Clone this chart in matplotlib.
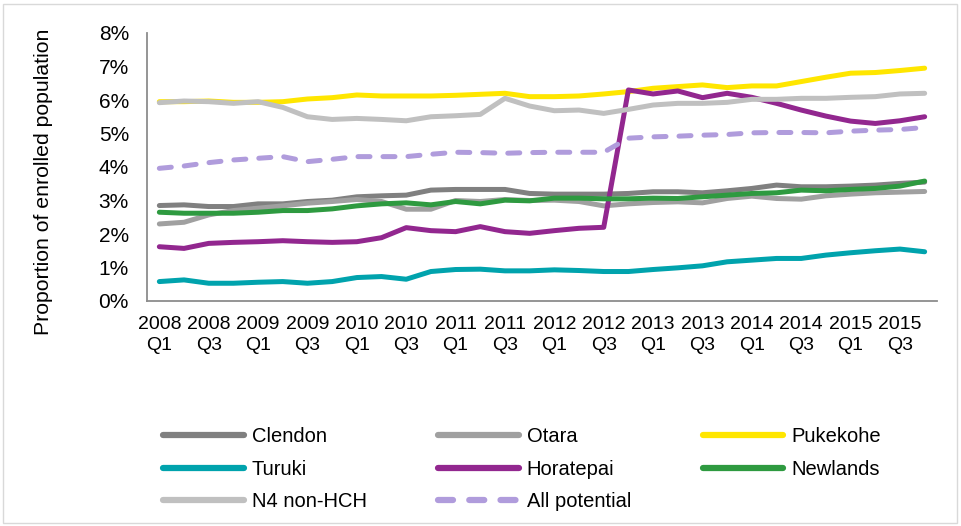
import numpy as np
import matplotlib
matplotlib.use("Agg")
import matplotlib.pyplot as plt
from matplotlib.ticker import FuncFormatter
from matplotlib.patches import Rectangle

plt.rcParams['font.family'] = ['Liberation Sans', 'DejaVu Sans']

quarters = [f"{y}\nQ{q}" for y in range(2008, 2016) for q in range(1, 5)]

# proportion of enrolled population, in percent
clendon = [2.85, 2.87, 2.82, 2.82, 2.90, 2.90, 2.97, 3.01, 3.11, 3.14, 3.16, 3.31,
           3.33, 3.33, 3.33, 3.21, 3.19, 3.19, 3.19, 3.21, 3.26, 3.26, 3.23, 3.29,
           3.36, 3.46, 3.41, 3.41, 3.43, 3.46, 3.51, 3.55]
otara = [2.30, 2.35, 2.57, 2.70, 2.77, 2.84, 2.92, 2.97, 3.03, 2.97, 2.74, 2.74,
         3.00, 2.97, 3.03, 3.00, 3.01, 2.97, 2.84, 2.90, 2.94, 2.96, 2.93, 3.06,
         3.13, 3.06, 3.04, 3.14, 3.19, 3.23, 3.25, 3.27]
pukekohe = [5.95, 5.95, 5.97, 5.93, 5.93, 5.95, 6.03, 6.07, 6.15, 6.12, 6.12, 6.12,
            6.14, 6.17, 6.20, 6.10, 6.10, 6.12, 6.18, 6.25, 6.35, 6.40, 6.45, 6.37,
            6.42, 6.42, 6.55, 6.68, 6.80, 6.82, 6.88, 6.95]
turuki = [0.58, 0.63, 0.53, 0.53, 0.56, 0.58, 0.53, 0.58, 0.70, 0.73, 0.65, 0.88,
          0.94, 0.95, 0.90, 0.90, 0.93, 0.91, 0.88, 0.88, 0.94, 0.99, 1.05, 1.17,
          1.22, 1.27, 1.27, 1.37, 1.44, 1.50, 1.55, 1.47]
horatepai = [1.62, 1.57, 1.72, 1.75, 1.77, 1.80, 1.77, 1.75, 1.77, 1.89, 2.19, 2.10,
             2.07, 2.22, 2.07, 2.02, 2.10, 2.17, 2.20, 6.30, 6.18, 6.27, 6.07, 6.20,
             6.08, 5.90, 5.70, 5.52, 5.37, 5.30, 5.38, 5.50]
newlands = [2.65, 2.62, 2.62, 2.62, 2.65, 2.70, 2.70, 2.75, 2.84, 2.90, 2.93, 2.87,
            2.97, 2.90, 3.01, 2.99, 3.07, 3.07, 3.05, 3.05, 3.07, 3.06, 3.11, 3.16,
            3.21, 3.23, 3.31, 3.29, 3.33, 3.36, 3.43, 3.58]
n4_non_hch = [5.92, 5.97, 5.95, 5.90, 5.95, 5.78, 5.50, 5.42, 5.45, 5.42, 5.38, 5.50,
              5.53, 5.57, 6.05, 5.82, 5.68, 5.70, 5.60, 5.72, 5.85, 5.90, 5.90, 5.93,
              6.02, 6.02, 6.05, 6.05, 6.08, 6.10, 6.18, 6.20]
all_potential = [3.96, 4.03, 4.13, 4.21, 4.26, 4.31, 4.16, 4.23, 4.31, 4.31, 4.31, 4.38,
                 4.44, 4.43, 4.41, 4.43, 4.44, 4.44, 4.44, 4.86, 4.90, 4.92, 4.95, 4.97,
                 5.02, 5.03, 5.03, 5.02, 5.07, 5.10, 5.12, 5.18]

series = [
    ("Clendon", clendon, "#808080", "-"),
    ("Otara", otara, "#A0A0A0", "-"),
    ("Pukekohe", pukekohe, "#FFE600", "-"),
    ("Turuki", turuki, "#00A3AD", "-"),
    ("Horatepai", horatepai, "#92278F", "-"),
    ("Newlands", newlands, "#2E9A40", "-"),
    ("N4 non-HCH", n4_non_hch, "#C0C0C0", "-"),
    ("All potential", all_potential, "#B09CDC", "--"),
]

fig = plt.figure(figsize=(9.61, 5.26), dpi=100)
ax = fig.add_axes([147 / 961, 1 - 301 / 526, 790 / 961, 268 / 526])

x = np.arange(len(quarters))
handles = []
for name, vals, color, ls in series:
    line, = ax.plot(x, vals, color=color, linewidth=3.6, label=name,
                    solid_capstyle="round", solid_joinstyle="round")
    if ls == "--":
        line.set_dashes([2.4, 2.6])
        line.set_dash_capstyle("round")
    handles.append(line)

ax.set_xlim(-0.5, len(quarters) - 0.5)
ax.set_ylim(0, 8)
ax.set_yticks(np.arange(0, 9, 1))
ax.yaxis.set_major_formatter(FuncFormatter(lambda v, p: f"{v:.0f}%"))
ax.set_xticks(x[::2])
ax.set_xticklabels(quarters[::2])
ax.tick_params(axis="both", length=0, colors="black")
ax.tick_params(axis="x", pad=11, labelsize=14)
ax.tick_params(axis="y", pad=13, labelsize=15)
for lab in ax.get_xticklabels():
    lab.set_linespacing(1.25)

for side in ["top", "right"]:
    ax.spines[side].set_visible(False)
for side in ["left", "bottom"]:
    ax.spines[side].set_color("#8c8c8c")
    ax.spines[side].set_linewidth(1.3)

ax.set_ylabel("Proportion of enrolled population", fontsize=15.3)
ax.yaxis.set_label_coords(-0.119, 0.444)

# legend fills column by column; reorder so rows read across
order = [0, 3, 6, 1, 4, 7, 2, 5]
leg = fig.legend([handles[i] for i in order], [series[i][0] for i in order],
                 loc="upper left", bbox_to_anchor=(163 / 961, 1 - 427 / 526),
                 ncol=3, frameon=False, fontsize=14.5, handlelength=4.0,
                 handletextpad=0.4, columnspacing=3.55, labelspacing=0.68,
                 borderaxespad=0, borderpad=0)
for h in leg.get_lines():
    h.set_linewidth(4.5)

fig.add_artist(Rectangle((3 / 961, 3 / 526), 954 / 961, 519 / 526,
                         transform=fig.transFigure, fill=False,
                         edgecolor="#d9d9d9", linewidth=1))

fig.savefig("out.png", dpi=100)
